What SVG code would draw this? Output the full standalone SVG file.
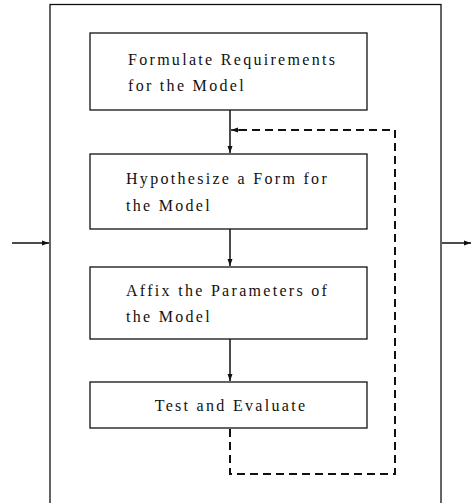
<svg xmlns="http://www.w3.org/2000/svg" width="471" height="503" viewBox="0 0 471 503">
<style>
.box{fill:#fff;stroke:#111;stroke-width:1.3}
.t{font-family:'Liberation Serif','DejaVu Serif','Times New Roman',serif;font-size:16px;letter-spacing:2.3px;fill:#111}
.ln{fill:none;stroke:#111;stroke-width:1.5}
.dash{fill:none;stroke:#111;stroke-width:2;stroke-dasharray:8,5}
</style>
<defs>
<marker id="ah" markerWidth="8" markerHeight="8" refX="7" refY="4" orient="auto" markerUnits="userSpaceOnUse">
<path d="M0,1.5 L7,4 L0,6.5 Z" fill="#111"/>
</marker>
</defs>
<rect id="frame" x="50" y="4.5" width="391" height="510" fill="none" stroke="#111" stroke-width="1.3"/>
<g id="n1"><rect class="box" x="90" y="33" width="277" height="77"/><text class="t" x="128" y="65">Formulate Requirements</text><text class="t" x="128" y="91">for the Model</text></g>
<g id="n2"><rect class="box" x="90" y="154" width="277" height="75"/><text class="t" x="126" y="184">Hypothesize a Form for</text><text class="t" x="126" y="211">the Model</text></g>
<g id="n3"><rect class="box" x="90" y="267" width="277" height="72"/><text class="t" x="126" y="296">Affix the Parameters of</text><text class="t" x="126" y="322">the Model</text></g>
<g id="n4"><rect class="box" x="90" y="382" width="277" height="46"/><text class="t" x="231" y="411" text-anchor="middle">Test and Evaluate</text></g>
<g id="connectors">
<line class="ln" x1="230" y1="110" x2="230" y2="153" marker-end="url(#ah)"/>
<line class="ln" x1="230" y1="229" x2="230" y2="266" marker-end="url(#ah)"/>
<line class="ln" x1="230" y1="339" x2="230" y2="381" marker-end="url(#ah)"/>
<path class="dash" d="M230,429 V474 H395 V130 H238"/>
<line class="ln" x1="240" y1="130" x2="231" y2="130" marker-end="url(#ah)"/>
<line class="ln" x1="12" y1="243" x2="49" y2="243" marker-end="url(#ah)"/>
<line class="ln" x1="442" y1="243" x2="471" y2="243" marker-end="url(#ah)"/>
</g>
</svg>
